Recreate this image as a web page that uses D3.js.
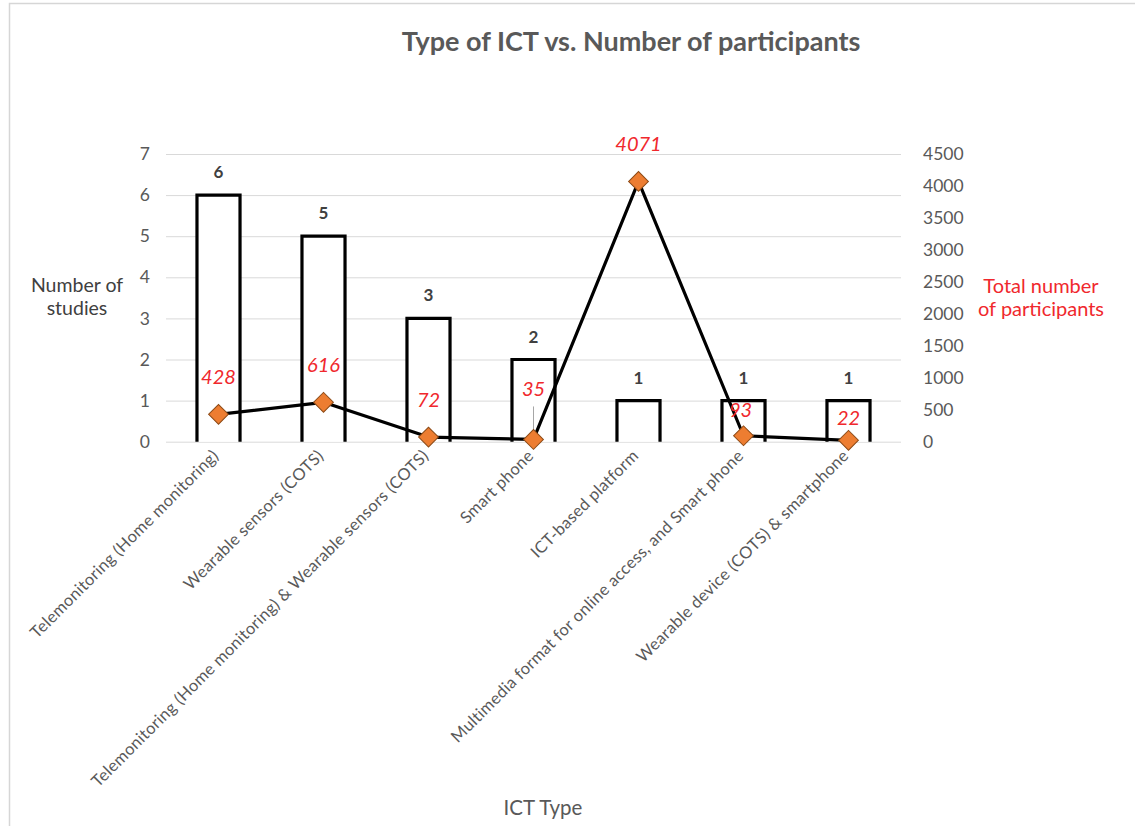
<!DOCTYPE html>
<html>
<head>
<meta charset="utf-8">
<script src="https://cdn.jsdelivr.net/npm/d3@7"></script>
<style>
  html, body { margin: 0; padding: 0; background: #ffffff; }
  svg { display: block; font-family: Lato, "Open Sans", sans-serif; }
</style>
</head>
<body>
<svg id="chart" width="1135" height="826"></svg>
<script>
// ICT types on the category axis
const categories = [
  "Telemonitoring (Home monitoring)",
  "Wearable sensors (COTS)",
  "Telemonitoring (Home monitoring) & Wearable sensors (COTS)",
  "Smart phone",
  "ICT-based platform",
  "Multimedia format for online access, and Smart phone",
  "Wearable device (COTS) & smartphone"
];
// Number of studies per ICT type (bars, left axis)
const studies = [6, 5, 3, 2, 1, 1, 1];
// Total number of participants per ICT type (line, right axis)
const participants = [428, 616, 72, 35, 4071, 93, 22];
// Axis tick values
const studyTicks = [0, 1, 2, 3, 4, 5, 6, 7];
const participantTicks = [0, 500, 1000, 1500, 2000, 2500, 3000, 3500, 4000, 4500];

const svg = d3.select("#chart");
const plot = { left: 166, right: 901, top: 154, bottom: 441.7 };

const x = d3.scaleBand()
  .domain(categories)
  .range([plot.left, plot.right])
  .paddingInner(0.59)
  .paddingOuter(0.295);
const yL = d3.scaleLinear().domain([0, 7]).range([plot.bottom, plot.top]);
const yR = d3.scaleLinear().domain([0, 4500]).range([plot.bottom, plot.top]);

const grey = "#595959";
const red = "#f0282d";

// Frame of the chart area
svg.append("path")
  .attr("d", "M9.5,826 V3.5 H1135")
  .attr("fill", "none")
  .attr("stroke", "#d6d6d6")
  .attr("stroke-width", 1.5);

// Title
svg.append("text")
  .attr("x", 631).attr("y", 51)
  .attr("text-anchor", "middle")
  .attr("font-size", 27).attr("font-weight", 700)
  .attr("fill", grey)
  .text("Type of ICT vs. Number of participants");

// Gridlines + left axis
const leftAxis = svg.append("g")
  .attr("transform", `translate(${plot.left},0)`)
  .call(d3.axisLeft(yL).tickValues(studyTicks).tickFormat(d3.format("d"))
    .tickSize(-(plot.right - plot.left)).tickPadding(16));
leftAxis.select(".domain").remove();
leftAxis.selectAll(".tick line").attr("stroke", "#d9d9d9").attr("stroke-width", 1);
leftAxis.selectAll(".tick text")
  .attr("font-family", "Lato, sans-serif")
  .attr("font-size", 17.5).attr("fill", grey);

// Right axis
const rightAxis = svg.append("g")
  .attr("transform", `translate(${plot.right},0)`)
  .call(d3.axisRight(yR).tickValues(participantTicks).tickFormat(d3.format("d"))
    .tickSize(0).tickPadding(22));
rightAxis.select(".domain").remove();
rightAxis.selectAll(".tick text")
  .attr("font-family", "Lato, sans-serif")
  .attr("font-size", 17.5).attr("fill", grey);

// Axis titles
const leftTitle = svg.append("text")
  .attr("text-anchor", "middle")
  .attr("font-size", 19.5).attr("fill", "#404040");
leftTitle.append("tspan").attr("x", 77).attr("y", 292).text("Number of");
leftTitle.append("tspan").attr("x", 77).attr("y", 315).text("studies");

const rightTitle = svg.append("text")
  .attr("text-anchor", "middle")
  .attr("font-size", 20).attr("fill", red);
rightTitle.append("tspan").attr("x", 1041).attr("y", 293).text("Total number");
rightTitle.append("tspan").attr("x", 1041).attr("y", 316).text("of participants");

svg.append("text")
  .attr("x", 543).attr("y", 815)
  .attr("text-anchor", "middle")
  .attr("font-size", 20.5).attr("fill", grey)
  .text("ICT Type");

// Bars: outlined, open at the baseline
const bars = svg.append("g");
categories.forEach((c, i) => {
  const x0 = x(c), x1 = x(c) + x.bandwidth();
  const yTop = yL(studies[i]), y0 = yL(0);
  bars.append("path")
    .attr("d", `M${x0},${y0} V${yTop} H${x1} V${y0}`)
    .attr("fill", "#ffffff")
    .attr("stroke", "#000000")
    .attr("stroke-width", 3.2)
    .attr("stroke-linejoin", "miter");
  bars.append("text")
    .attr("x", x(c) + x.bandwidth() / 2)
    .attr("y", yTop - 17)
    .attr("text-anchor", "middle")
    .attr("font-size", 17).attr("font-weight", 700)
    .attr("fill", "#404040")
    .text(studies[i]);
});

// Category labels, rotated
svg.append("g").selectAll("text")
  .data(categories)
  .join("text")
  .attr("transform", c => `translate(${x(c) + x.bandwidth() / 2 - 3},${plot.bottom + 11}) rotate(-45)`)
  .attr("text-anchor", "end")
  .attr("dy", "0.35em")
  .attr("font-size", 16.5)
  .attr("letter-spacing", 0.3)
  .attr("fill", grey)
  .text(c => c);

// Participants line
const pts = categories.map((c, i) => ({ c, v: participants[i], cx: x(c) + x.bandwidth() / 2, cy: yR(participants[i]) }));
svg.append("path")
  .datum(pts)
  .attr("d", d3.line().x(d => d.cx).y(d => d.cy))
  .attr("fill", "none")
  .attr("stroke", "#000000")
  .attr("stroke-width", 3.2)
  .attr("stroke-linejoin", "round");

// Leader line for the label moved off its marker
const leaderIdx = 3;
svg.append("line")
  .attr("x1", pts[leaderIdx].cx).attr("x2", pts[leaderIdx].cx)
  .attr("y1", pts[leaderIdx].cy - 33).attr("y2", pts[leaderIdx].cy - 4)
  .attr("stroke", "#a6a6a6").attr("stroke-width", 1);

// Diamond markers
svg.append("g").selectAll("rect")
  .data(pts)
  .join("rect")
  .attr("x", -7).attr("y", -7)
  .attr("width", 14).attr("height", 14)
  .attr("transform", d => `translate(${d.cx},${d.cy}) rotate(45)`)
  .attr("fill", "#ed7d31")
  .attr("stroke", "#8c4a16")
  .attr("stroke-width", 1);

// Participant value labels (some nudged to clear bars and lines)
const labelShift = { 3: [0, -50], 5: [-3, -26], 6: [0, -22] };
svg.append("g").selectAll("text")
  .data(pts)
  .join("text")
  .attr("x", (d, i) => d.cx + (labelShift[i] ? labelShift[i][0] : 0))
  .attr("y", (d, i) => d.cy + (labelShift[i] ? labelShift[i][1] : -37))
  .attr("dy", "0.35em")
  .attr("text-anchor", "middle")
  .attr("font-size", 20).attr("font-style", "italic")
  .attr("fill", red)
  .text(d => d.v);
</script>
</body>
</html>
